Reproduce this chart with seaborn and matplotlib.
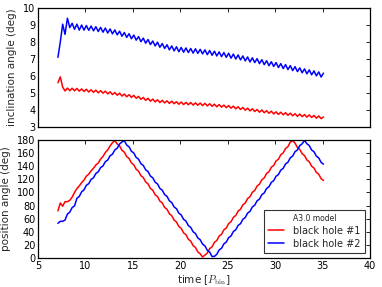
import numpy as np
import pandas as pd
import matplotlib
matplotlib.use("Agg")
import matplotlib.pyplot as plt
import seaborn as sns

# 時間軸（軌道周期単位）
time_bin = np.round(np.arange(113) * 0.25 + 7.1, 2)

# 傾斜角 (deg)
incl_bh1 = [5.6, 5.95, 5.35, 5.12, 5.29, 5.14, 5.28, 5.13, 5.27, 5.11,
            5.24, 5.09, 5.22, 5.06, 5.19, 5.04, 5.17, 5.01, 5.14, 4.99,
            5.11, 4.95, 5.07, 4.91, 5.03, 4.87, 4.99, 4.82, 4.94, 4.78,
            4.9, 4.74, 4.86, 4.69, 4.8, 4.63, 4.74, 4.57, 4.69, 4.52,
            4.64, 4.48, 4.6, 4.44, 4.57, 4.42, 4.54, 4.39, 4.52, 4.37,
            4.49, 4.34, 4.47, 4.32, 4.45, 4.31, 4.44, 4.29, 4.42, 4.28,
            4.41, 4.26, 4.39, 4.24, 4.37, 4.22, 4.34, 4.19, 4.32, 4.17,
            4.29, 4.14, 4.26, 4.11, 4.23, 4.07, 4.19, 4.03, 4.15, 3.99,
            4.11, 3.95, 4.07, 3.91, 4.03, 3.87, 4.0, 3.84, 3.96, 3.81,
            3.93, 3.77, 3.89, 3.74, 3.87, 3.72, 3.84, 3.69, 3.81, 3.66,
            3.78, 3.63, 3.76, 3.61, 3.73, 3.58, 3.71, 3.56, 3.68, 3.52,
            3.65, 3.49, 3.59]
incl_bh2 = [7.1, 8.0, 9.05, 8.45, 9.4, 8.85, 9.1, 8.75, 9.05, 8.7,
            9.0, 8.7, 8.97, 8.69, 8.94, 8.66, 8.9, 8.62, 8.86, 8.58,
            8.82, 8.53, 8.77, 8.48, 8.71, 8.42, 8.64, 8.34, 8.56, 8.27,
            8.49, 8.19, 8.41, 8.11, 8.32, 8.02, 8.23, 7.93, 8.15, 7.85,
            8.06, 7.77, 7.99, 7.69, 7.91, 7.62, 7.84, 7.54, 7.77, 7.48,
            7.72, 7.43, 7.68, 7.4, 7.65, 7.38, 7.62, 7.35, 7.6, 7.33,
            7.57, 7.3, 7.54, 7.26, 7.5, 7.22, 7.46, 7.18, 7.42, 7.14,
            7.38, 7.1, 7.34, 7.05, 7.29, 7.0, 7.24, 6.95, 7.18, 6.89,
            7.12, 6.83, 7.07, 6.79, 7.02, 6.73, 6.96, 6.67, 6.9, 6.61,
            6.84, 6.56, 6.79, 6.5, 6.73, 6.44, 6.67, 6.38, 6.61, 6.32,
            6.55, 6.26, 6.48, 6.19, 6.42, 6.13, 6.36, 6.07, 6.3, 6.01,
            6.24, 5.94, 6.17]

# 位置角 (deg)
pa_bh1 = [72, 84, 79, 86, 86, 88, 93, 100, 106, 110,
          115, 119, 125, 128, 133, 137, 142, 145, 151, 155,
          161, 165, 171, 176, 179, 174, 171, 164.5, 161.6, 154.8,
          151.9, 145.1, 142.2, 135.4, 132.5, 125.7, 122.8, 116, 113.1, 106.3,
          103.4, 96.6, 93.7, 86.9, 84, 77.2, 74.3, 67.5, 64.6, 57.8,
          54.9, 48.1, 45.2, 38.4, 35.5, 28.7, 25.8, 19, 16.1, 9.3,
          6.4, 1.5, 4.5, 7.6, 14.4, 17.1, 23.9, 26.7, 33.5, 36.2,
          43, 45.8, 52.6, 55.3, 62.1, 64.9, 71.7, 74.4, 81.2, 84,
          90.8, 93.5, 100.3, 103.1, 109.9, 112.6, 119.4, 122.2, 129, 131.7,
          138.5, 141.3, 148.1, 150.8, 157.6, 160.4, 167.2, 169.9, 177, 179,
          175.3, 168.6, 165.8, 159.1, 156.3, 149.6, 146.8, 140.1, 137.3, 130.6,
          127.8, 121.1, 118.3]
pa_bh2 = [53, 56, 56, 58, 67, 70, 77, 79.5, 91, 94,
          101, 104, 111, 113.5, 120, 122.5, 129, 131.5, 138, 140.5,
          147, 149.5, 156, 158.5, 165, 167.5, 174, 177, 179, 172.4,
          169.7, 162.9, 160.2, 153.5, 150.8, 144, 141.3, 134.6, 131.9, 125.1,
          122.4, 115.7, 113, 106.2, 103.5, 96.8, 94.1, 87.3, 84.6, 77.9,
          75.2, 68.4, 65.7, 59, 56.3, 49.5, 46.8, 40.1, 37.4, 30.6,
          27.9, 21.2, 18.5, 11.7, 9, 2.3, 2.5, 5.6, 12.3, 14.9,
          21.6, 24.3, 31, 33.7, 40.4, 43.1, 49.8, 52.4, 59.1, 61.8,
          68.5, 71.2, 77.9, 80.6, 87.3, 89.9, 96.6, 99.3, 106, 108.7,
          115.4, 118.1, 124.8, 127.4, 134.1, 136.8, 143.5, 146.2, 152.9, 155.6,
          162.3, 164.9, 171.6, 174.3, 179.5, 174.3, 171.6, 164.8, 162.1, 155.4,
          152.7, 145.9, 143.2]

labels = ['black hole #1', 'black hole #2']
colors = ['#ff0000', '#0000ff']

df_incl = pd.DataFrame({'time': np.concatenate([time_bin, time_bin]),
                        'value': incl_bh1 + incl_bh2,
                        'bh': [labels[0]] * len(time_bin) + [labels[1]] * len(time_bin)})
df_pa = pd.DataFrame({'time': np.concatenate([time_bin, time_bin]),
                      'value': pa_bh1 + pa_bh2,
                      'bh': [labels[0]] * len(time_bin) + [labels[1]] * len(time_bin)})

sns.set_style('white')
plt.rcParams['font.family'] = ['DejaVu Sans']
plt.rcParams['mathtext.fontset'] = 'cm'

fig = plt.figure(figsize=(3.82, 2.87), dpi=100)
ax1 = fig.add_axes([0.0995, 0.5575, 0.869, 0.4145])
ax2 = fig.add_axes([0.0995, 0.101, 0.869, 0.411])

palette = dict(zip(labels, colors))
sns.lineplot(data=df_incl, x='time', y='value', hue='bh', palette=palette,
             ax=ax1, lw=1.1, legend=False, sort=False, estimator=None)
sns.lineplot(data=df_pa, x='time', y='value', hue='bh', palette=palette,
             ax=ax2, lw=1.1, sort=False, estimator=None)

for ax in (ax1, ax2):
    ax.set_xlim(5, 40)
    ax.set_xticks(range(5, 41, 5))
    ax.tick_params(direction='in', top=True, right=True, labelsize=7,
                   length=3, width=0.6, colors='black', pad=2)
    for sp in ax.spines.values():
        sp.set_color('black')
        sp.set_linewidth(0.9)

ax1.set_ylim(3, 10)
ax1.set_yticks(range(3, 11))
ax1.set_xticklabels([])
ax1.set_xlabel('')
ax1.set_ylabel('inclination angle (deg)', fontsize=7.5, labelpad=4)

ax2.set_ylim(0, 180)
ax2.set_yticks(range(0, 181, 20))
ax2.set_xlabel(r'time [$P_{\rm bin}$]', fontsize=7.5, labelpad=2)
ax2.set_ylabel('position angle (deg)', fontsize=7.5, labelpad=4)

leg = ax2.legend(title='A3.0 model', loc='lower right', fontsize=7,
                 title_fontsize=5.5, frameon=True, fancybox=False,
                 edgecolor='black', borderaxespad=0.5, handlelength=1.6,
                 handletextpad=1.0, labelspacing=0.3, borderpad=0.45)
leg.get_frame().set_linewidth(0.8)

fig.savefig('out.png', dpi=100)
